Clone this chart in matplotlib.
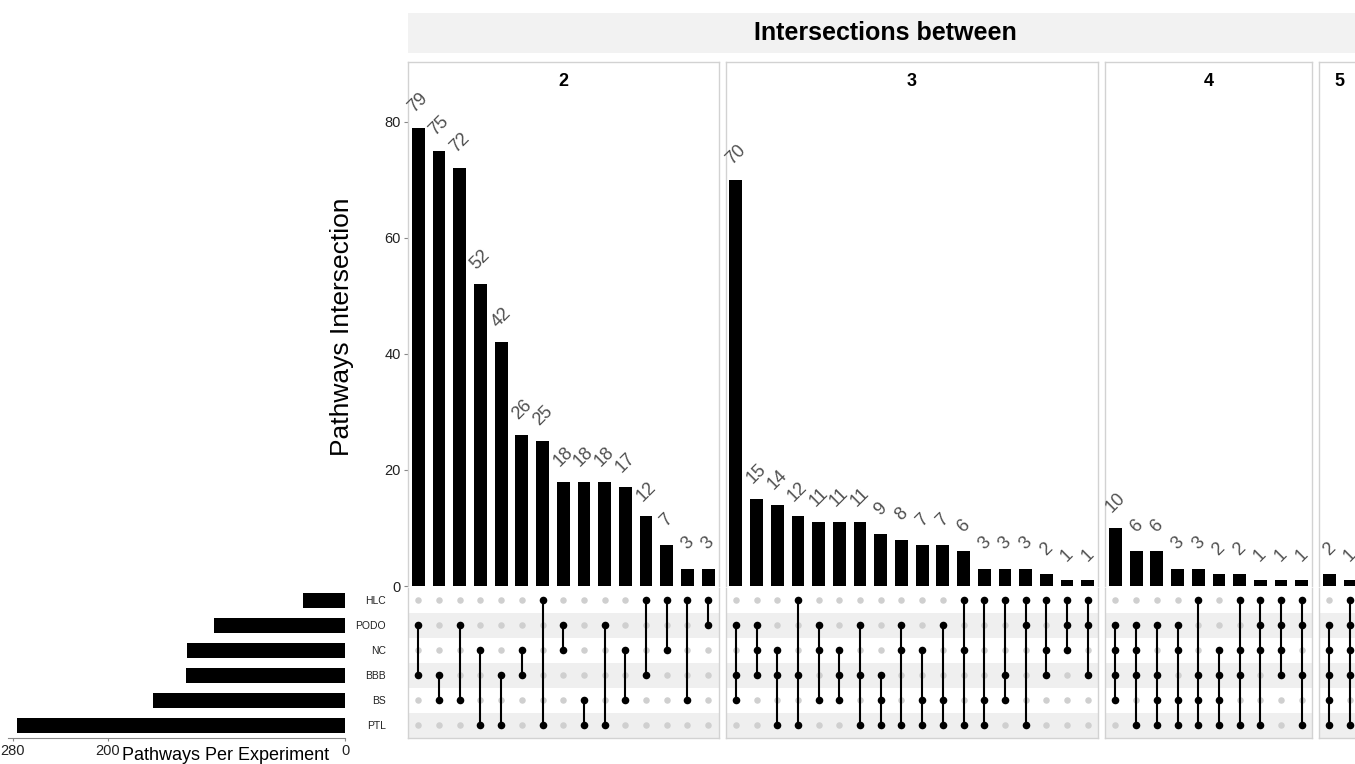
import matplotlib
matplotlib.use("Agg")
import matplotlib.pyplot as plt
from matplotlib.patches import Rectangle

plt.rcParams['font.family'] = ['Liberation Sans', 'DejaVu Sans']

# ---------------- data ----------------
sets = ["HLC", "PODO", "NC", "BBB", "BS", "PTL"]          # top to bottom
set_sizes = [35, 110, 133, 134, 162, 276]

deg2_members = [("PODO", "BBB"), ("BBB", "BS"), ("PODO", "BS"), ("NC", "PTL"),
                ("BBB", "PTL"), ("NC", "BBB"), ("HLC", "PTL"), ("PODO", "NC"),
                ("BS", "PTL"), ("PODO", "PTL"), ("NC", "BS"), ("HLC", "BBB"),
                ("HLC", "NC"), ("HLC", "BS"), ("HLC", "PODO")]
deg2_counts = [79, 75, 72, 52, 42, 26, 25, 18, 18, 18, 17, 12, 7, 3, 3]

deg3_members = [("PODO", "BBB", "BS"), ("PODO", "NC", "BBB"), ("NC", "BBB", "PTL"),
                ("HLC", "BBB", "PTL"), ("PODO", "NC", "BS"), ("NC", "BBB", "BS"),
                ("PODO", "BBB", "PTL"), ("BBB", "BS", "PTL"), ("PODO", "NC", "PTL"),
                ("NC", "BS", "PTL"), ("PODO", "BS", "PTL"), ("HLC", "NC", "PTL"),
                ("HLC", "BS", "PTL"), ("HLC", "BBB", "BS"), ("HLC", "PODO", "PTL"),
                ("HLC", "NC", "BBB"), ("HLC", "PODO", "NC"), ("HLC", "PODO", "BBB")]
deg3_counts = [70, 15, 14, 12, 11, 11, 11, 9, 8, 7, 7, 6, 3, 3, 3, 2, 1, 1]

deg4_members = [("PODO", "NC", "BBB", "BS"), ("PODO", "NC", "BBB", "PTL"),
                ("PODO", "BBB", "BS", "PTL"), ("PODO", "NC", "BS", "PTL"),
                ("HLC", "BBB", "BS", "PTL"), ("NC", "BBB", "BS", "PTL"),
                ("HLC", "NC", "BBB", "PTL"), ("HLC", "PODO", "NC", "PTL"),
                ("HLC", "PODO", "NC", "BBB"), ("HLC", "PODO", "BBB", "PTL")]
deg4_counts = [10, 6, 6, 3, 3, 2, 2, 1, 1, 1]

deg5_members = [("PODO", "NC", "BBB", "BS", "PTL"), ("HLC", "PODO", "NC", "BBB", "PTL")]
deg5_counts = [2, 1]

degrees = ["2", "3", "4", "5"]
panel_members = [deg2_members, deg3_members, deg4_members, deg5_members]
panel_counts = [deg2_counts, deg3_counts, deg4_counts, deg5_counts]

y_ticks = [0, 20, 40, 60, 80]
size_ticks = [280, 200, 0]

# ---------------- layout helpers ----------------
W, H = 1355, 764
fig = plt.figure(figsize=(W / 100, H / 100), dpi=100)


def rect(x0, y0, x1, y1):
    return [x0 / W, 1 - y1 / H, (x1 - x0) / W, (y1 - y0) / H]


COL = 20.7
GAP = 7
X0 = 408
BAR_TOP, BAR_BOT = 62, 586
MAT_TOP, MAT_BOT = 587.5, 738
YMAX = 90.3
border = '#d2d2d2'
stripe = '#efefef'
txt_grey = '#505050'

x = X0
for i, (deg, members, counts) in enumerate(zip(degrees, panel_members, panel_counts)):
    n = len(counts)
    w = n * COL
    # --- intersection bars
    axb = fig.add_axes(rect(x, BAR_TOP, x + w, BAR_BOT))
    axb.bar(range(n), counts, width=0.62, color='black', zorder=2)
    axb.set_xlim(-0.5, n - 0.5)
    axb.set_ylim(0, YMAX)
    for j, v in enumerate(counts):
        axb.annotate(str(v), (j, v), xytext=(0, 18), textcoords='offset points',
                     rotation=45, ha='center', va='center', fontsize=13,
                     color=txt_grey)
    axb.set_xticks([])
    for s in ['left', 'right', 'top']:
        axb.spines[s].set_color(border)
        axb.spines[s].set_linewidth(1.0)
    axb.spines['bottom'].set_visible(False)
    if i == 0:
        axb.set_yticks(y_ticks)
        axb.tick_params(axis='y', length=3, color='#888888', labelsize=10.5,
                        labelcolor='#222222', pad=2)
    else:
        axb.set_yticks([])
    axb.text(0.5, 1 - 20 / (BAR_BOT - BAR_TOP), deg, transform=axb.transAxes,
             ha='center', va='center', fontweight='bold', fontsize=13)

    # --- matrix
    axm = fig.add_axes(rect(x, MAT_TOP, x + w, MAT_BOT))
    axm.set_xlim(-0.5, n - 0.5)
    axm.set_ylim(len(sets) - 0.5, -0.5)
    for r in range(len(sets)):
        if r % 2 == 1:
            axm.axhspan(r - 0.5, r + 0.5, color=stripe, lw=0, zorder=0)
    for j in range(n):
        axm.scatter([j] * len(sets), range(len(sets)), s=22, color='#cfcfcf',
                    zorder=1, linewidths=0)
    for j, mem in enumerate(members):
        rows = [sets.index(m) for m in mem]
        axm.plot([j, j], [min(rows), max(rows)], color='black', lw=1.5, zorder=2)
        axm.scatter([j] * len(rows), rows, s=30, color='black', zorder=3,
                    linewidths=0)
    axm.set_xticks([])
    if i == 0:
        axm.set_yticks(range(len(sets)))
        axm.set_yticklabels(sets)
        axm.tick_params(axis='y', length=0, labelsize=7.5, pad=16,
                        labelcolor='#222222')
    else:
        axm.set_yticks([])
    axm.spines['top'].set_visible(False)
    for s in ['left', 'right', 'bottom']:
        axm.spines[s].set_color(border)
        axm.spines[s].set_linewidth(1.0)
    x += w + GAP

# ---------------- set size bars ----------------
axs = fig.add_axes(rect(8, MAT_TOP, 345, MAT_BOT))
axs.barh(range(len(sets)), set_sizes, height=0.6, color='black')
axs.set_xlim(284, 0)
axs.set_ylim(len(sets) - 0.5, -0.5)
axs.set_xticks(size_ticks)
axs.set_yticks([])
for s in ['left', 'right', 'top']:
    axs.spines[s].set_visible(False)
axs.spines['bottom'].set_color('#888888')
axs.tick_params(axis='x', length=2, color='#888888', labelsize=10.5,
                labelcolor='#222222', pad=2.5)

# ---------------- titles / labels ----------------
fig.patches.append(Rectangle((408 / W, 1 - 53 / H), (1362 - 408) / W, 40 / H,
                             transform=fig.transFigure, color='#f2f2f2', lw=0))
fig.text(885 / W, 1 - 33.5 / H, 'Intersections between', ha='center',
         va='center', fontweight='bold', fontsize=18)
fig.text(342 / W, 1 - 327 / H, 'Pathways Intersection', rotation=90,
         ha='center', va='center', fontsize=19)
fig.text(226 / W, 1 - 760 / H, 'Pathways Per Experiment', ha='center',
         va='baseline', fontsize=13)

fig.savefig('out.png', dpi=100)
